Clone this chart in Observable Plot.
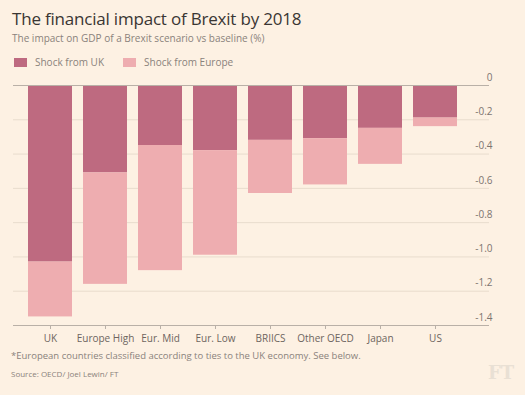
<!DOCTYPE html>
<html>
<head>
<meta charset="utf-8">
<script src="https://cdn.jsdelivr.net/npm/d3@7"></script>
<script src="https://cdn.jsdelivr.net/npm/@observablehq/plot@0.6"></script>
<style>
  html, body { margin: 0; padding: 0; background: #fdf1e3; }
  body { width: 525px; height: 395px; position: relative; overflow: hidden; font-family: "Open Sans", "DejaVu Sans", sans-serif; }
  .t { position: absolute; white-space: nowrap; }
  #title { left: 12px; top: 7px; font-size: 17px; color: #3a3633; letter-spacing: -0.2px; }
  #subtitle { left: 12px; top: 31px; font-size: 10px; color: #8a827c; }
  #legend { left: 14px; top: 55px; font-size: 10px; color: #8a827c; display: flex; align-items: center; }
  #legend .sw { display: inline-block; width: 13px; height: 9px; margin-right: 8px; }
  #legend .item { display: flex; align-items: center; margin-right: 19px; }
  #chart { position: absolute; left: 0; top: 64px; }
  #note { left: 11px; top: 349px; font-size: 9.5px; color: #8a827c; }
  #source { left: 11px; top: 368px; font-size: 8px; color: #8a827c; }
  #ft { left: 488px; top: 362px; font-size: 18px; color: #e9e0d4; font-family: "DejaVu Serif", serif; font-weight: bold; }
</style>
</head>
<body>
<div class="t" id="title">The financial impact of Brexit by 2018</div>
<div class="t" id="subtitle">The impact on GDP of a Brexit scenario vs baseline (%)</div>
<div class="t" id="legend"></div>
<div id="chart"></div>
<div class="t" id="note">*European countries classified according to ties to the UK economy. See below.</div>
<div class="t" id="source">Source: OECD/ Joel Lewin/ FT</div>
<div class="t" id="ft">FT</div>
<script>
const regions = ["UK", "Europe High", "Eur. Mid", "Eur. Low", "BRIICS", "Other OECD", "Japan", "US"];
const series = ["Shock from UK", "Shock from Europe"];
const shockFromUK = [-1.03, -0.51, -0.35, -0.38, -0.32, -0.31, -0.25, -0.19];
const shockFromEurope = [-0.32, -0.65, -0.73, -0.61, -0.31, -0.27, -0.21, -0.05];
const yTicks = [0, -0.2, -0.4, -0.6, -0.8, -1.0, -1.2, -1.4];
const colors = ["#be6a80", "#eeadb0"];

const data = [];
regions.forEach((r, i) => {
  data.push({region: r, series: series[0], value: shockFromUK[i]});
  data.push({region: r, series: series[1], value: shockFromEurope[i]});
});

const legend = document.getElementById("legend");
series.forEach((s, i) => {
  const it = document.createElement("span");
  it.className = "item";
  it.innerHTML = `<span class="sw" style="background:${colors[i]}"></span>${s}`;
  legend.appendChild(it);
});

const fmt = d => d === 0 ? "0" : d.toFixed(1).replace("−", "-");

const chart = Plot.plot({
  width: 525,
  height: 288,
  marginTop: 21,
  marginBottom: 27,
  marginLeft: 13,
  marginRight: 36,
  style: {background: "transparent", fontFamily: "Open Sans, DejaVu Sans, sans-serif"},
  x: {domain: regions, range: [26, 458], paddingInner: 0.2, paddingOuter: 0, label: null},
  y: {domain: [-1.4, 0], label: null},
  color: {domain: series, range: colors},
  marks: [
    Plot.ruleY(yTicks, {stroke: "#e8dccd", strokeWidth: 1}),
    Plot.barY(data, {x: "region", y: "value", fill: "series", order: series}),
    Plot.ruleY([0, -1.4], {stroke: "#b9b0a7", strokeWidth: 1}),
    Plot.axisY({anchor: "right", ticks: yTicks, tickSize: 0, tickPadding: 0, textAnchor: "end", dx: 3, dy: -8, tickFormat: fmt, fontSize: 10, color: "#7d7570", label: null}),
    Plot.axisX({tickSize: 4, tickPadding: 5, fontSize: 10, stroke: "#b9b0a7", color: "#6d6560", label: null})
  ]
});
document.getElementById("chart").appendChild(chart);
</script>
</body>
</html>
